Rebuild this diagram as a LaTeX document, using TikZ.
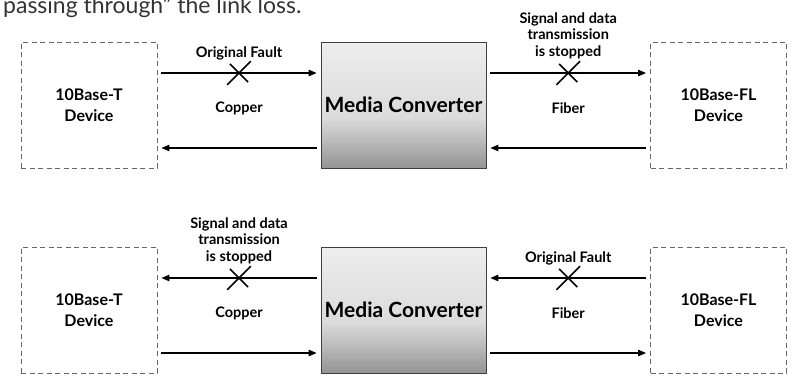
\documentclass[tikz,border=0pt]{standalone}
\usepackage{fontspec}
\setmainfont{Lato}
\usetikzlibrary{positioning,arrows.meta,shapes.misc}

% shading of the converter box: light above, darker at the bottom
\pgfdeclareverticalshading{convshade}{100bp}{color(0bp)=(black!42); color(25bp)=(black!42); color(45bp)=(black!14); color(75bp)=(black!7); color(100bp)=(black!7)}

\begin{document}
\begin{tikzpicture}[x=1pt, y=-1pt, >={Triangle[length=8pt,width=6.5pt]},
  device/.style={draw=black!60, dash pattern=on 5pt off 3.5pt, line width=0.9pt, minimum width=136pt, minimum height=126pt,
    align=center, font=\bfseries\fontsize{16}{21}\selectfont},
  conv/.style={draw=black!75, line width=0.8pt, shading=convshade, minimum width=165pt, minimum height=126pt,
    font=\bfseries\fontsize{21}{23}\selectfont},
  lbl/.style={align=center, font=\bfseries\fontsize{14.5}{16.5}\selectfont},
  cross/.style={cross out, draw, line width=1.7pt, minimum size=22pt, inner sep=0pt},
  link/.style={->, line width=1.1pt, shorten <=4pt, shorten >=4pt}]
 \path[use as bounding box, clip] (0,0) rectangle (795,375);
 \node[anchor=base west, inner sep=0pt, text=black!80, font=\fontsize{23}{26}\selectfont] (intro) at (3,13) {passing through'' the link loss.};

 % fault on the copper side
 \node[device] (cu1) at (89,105) {10Base-T\\Device};
 \node[conv] (mc1) at (403.5,105) {Media Converter};
 \node[device] (fl1) at (718.5,105) {10Base-FL\\Device};
 \draw[link] ([yshift=32pt]cu1.east) -- node[cross] (x1) {} ([yshift=32pt]mc1.west);
 \draw[link] ([yshift=-43pt]mc1.west) -- ([yshift=-43pt]cu1.east);
 \draw[link] ([yshift=32pt]mc1.east) -- node[cross] (x2) {} ([yshift=32pt]fl1.west);
 \draw[link] ([yshift=-43pt]fl1.west) -- ([yshift=-43pt]mc1.east);
 \node[lbl, above=-2pt of x1] (fault1) {Original Fault};
 \node[lbl, above=-1pt of x2] (stop1) {Signal and data\\transmission\\is stopped};
 \node[lbl, below=14pt of x1] (copper1) {Copper};
 \node[lbl, below=14pt of x2] (fiber1) {Fiber};

 % fault on the fiber side
 \node[device] (cu2) at (89,310) {10Base-T\\Device};
 \node[conv] (mc2) at (403.5,310) {Media Converter};
 \node[device] (fl2) at (718.5,310) {10Base-FL\\Device};
 \draw[link] ([yshift=32pt]mc2.west) -- node[cross] (x3) {} ([yshift=32pt]cu2.east);
 \draw[link] ([yshift=-43pt]cu2.east) -- ([yshift=-43pt]mc2.west);
 \draw[link] ([yshift=32pt]fl2.west) -- node[cross] (x4) {} ([yshift=32pt]mc2.east);
 \draw[link] ([yshift=-43pt]mc2.east) -- ([yshift=-43pt]fl2.west);
 \node[lbl, above=-1pt of x3] (stop2) {Signal and data\\transmission\\is stopped};
 \node[lbl, above=-2pt of x4] (fault2) {Original Fault};
 \node[lbl, below=14pt of x3] (copper2) {Copper};
 \node[lbl, below=14pt of x4] (fiber2) {Fiber};
\end{tikzpicture}
\end{document}
